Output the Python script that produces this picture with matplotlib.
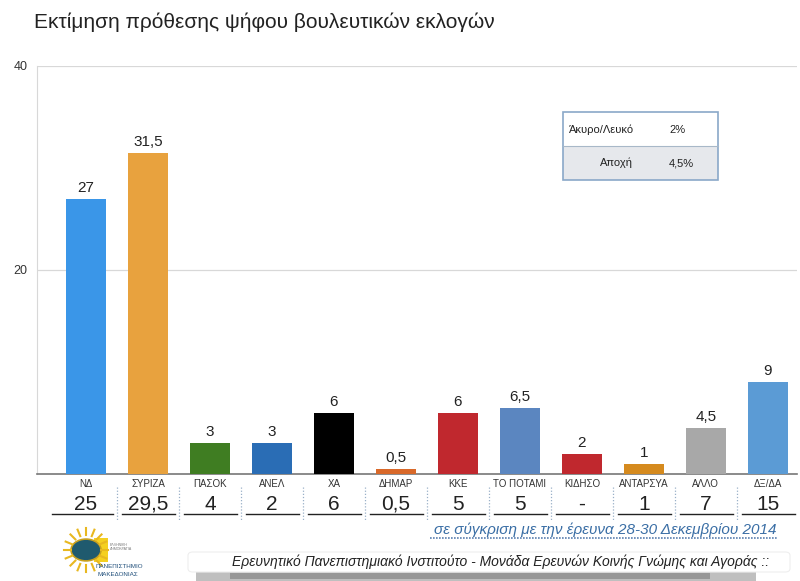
import math
import matplotlib.pyplot as plt
import matplotlib.transforms as mtransforms
from matplotlib.patches import Rectangle, FancyBboxPatch, Circle

plt.rcParams['font.family'] = ['Liberation Sans', 'DejaVu Sans']

# Data
parties = ["ΝΔ", "ΣΥΡΙΖΑ", "ΠΑΣΟΚ", "ΑΝΕΛ", "ΧΑ", "ΔΗΜΑΡ", "ΚΚΕ", "ΤΟ ΠΟΤΑΜΙ",
           "ΚΙΔΗΣΟ", "ΑΝΤΑΡΣΥΑ", "ΑΛΛΟ", "ΔΞ/ΔΑ"]
estimate = [27, 31.5, 3, 3, 6, 0.5, 6, 6.5, 2, 1, 4.5, 9]
previous = ["25", "29,5", "4", "2", "6", "0,5", "5", "5", "-", "1", "7", "15"]
colors = ["#3a96e8", "#e8a23e", "#3f7d22", "#2a6db5", "#000000", "#d9692a",
          "#c0282e", "#5b86c0", "#c0282e", "#d58a1e", "#a8a8a8", "#5b9bd5"]
inset_labels = ["Άκυρο/Λευκό", "Αποχή"]
inset_values = ["2%", "4,5%"]

W, H = 800, 581
fig = plt.figure(figsize=(8, 5.81), dpi=100)
fig.patch.set_facecolor("white")


def fy(py):
    # pixel row from top -> figure fraction
    return 1 - py / H


def fx(px):
    return px / W


ax = fig.add_axes([fx(37), fy(474), 760 / W, 408 / H])
x = list(range(len(parties)))
ax.bar(x, estimate, width=0.645, color=colors, zorder=3)
for i, v in enumerate(estimate):
    lab = ("%g" % v).replace(".", ",")
    ax.text(i, v + 0.4, lab, ha="center", va="bottom", fontsize=11, color="#222222")

ax.set_xlim(-0.79, 11.47)
ax.set_ylim(0, 40)
ax.set_yticks([20, 40])
ax.set_yticklabels(["20", "40"], fontsize=9, color="#333333")
ax.tick_params(axis="y", length=0, pad=7)
ax.tick_params(axis="x", length=0)
ax.set_xticks([])
ax.grid(axis="y", color="#d8d8d8", linewidth=0.9, zorder=0)
for s in ["top", "right"]:
    ax.spines[s].set_visible(False)
ax.spines["left"].set_color("#d8d8d8")
ax.spines["bottom"].set_color("#777777")
ax.spines["bottom"].set_linewidth(1.2)

# Title
fig.text(fx(34), fy(22), "Εκτίμηση πρόθεσης ψήφου βουλευτικών εκλογών",
         fontsize=15, color="#222222", va="center", ha="left")

# Table under the bars: categories and previous values
tr = mtransforms.blended_transform_factory(ax.transData, fig.transFigure)
for i, p in enumerate(parties):
    ax.text(i, fy(484), p, transform=tr, ha="center", va="center",
            fontsize=7, color="#333333", clip_on=False)
    ax.text(i, fy(504), previous[i], transform=tr, ha="center", va="center",
            fontsize=15, color="#222222", clip_on=False)
    left = i - 0.5 + 0.08 if i > 0 else i - 0.55
    right = i + 0.5 - 0.06
    ax.plot([left, right], [fy(514), fy(514)], transform=tr, color="#222222",
            linewidth=1.0, clip_on=False)
    if i > 0:
        ax.plot([i - 0.5, i - 0.5], [fy(487), fy(521)], transform=tr,
                color="#9ab0c8", linewidth=0.9, linestyle=(0, (1, 1.5)), clip_on=False)

# Comparison note
fig.text(fx(776), fy(530), "σε σύγκριση με την έρευνα 28-30 Δεκεμβρίου 2014",
         fontsize=11, style="italic", color="#3a6ea5", ha="right", va="center")
fig.add_artist(plt.Line2D([fx(430), fx(778)], [fy(538), fy(538)],
                          color="#5a7fb0", linewidth=1.2, linestyle=(0, (1, 0.8))))

# Inset box (invalid / abstention)
bx0, bx1, by0, by1, bym = 563, 718, 112, 180, 146
fig.add_artist(Rectangle((fx(bx0), fy(by1)), fx(bx1 - bx0), (by1 - bym) / H,
                         facecolor="#e6e8ec", edgecolor="none"))
fig.add_artist(Rectangle((fx(bx0), fy(by1)), fx(bx1 - bx0), (by1 - by0) / H,
                         facecolor="none", edgecolor="#8aa8c8", linewidth=1.2))
fig.add_artist(plt.Line2D([fx(bx0), fx(bx1)], [fy(bym), fy(bym)],
                          color="#a8b8c8", linewidth=0.8))
fig.text(fx(569), fy(130), inset_labels[0], fontsize=8, color="#222222", va="center")
fig.text(fx(678), fy(130), inset_values[0], fontsize=8, color="#222222", va="center", ha="center")
fig.text(fx(600), fy(163), inset_labels[1], fontsize=8, color="#222222", va="center")
fig.text(fx(681), fy(163), inset_values[1], fontsize=8, color="#222222", va="center", ha="center")

# Footer band with grey shadow
fig.add_artist(Rectangle((fx(196), fy(581)), fx(560), 11 / H,
                         facecolor="#8c8c8c", edgecolor="none", alpha=0.55))
fig.add_artist(Rectangle((fx(230), fy(579)), fx(480), 6 / H,
                         facecolor="#707070", edgecolor="none", alpha=0.5))
fig.add_artist(FancyBboxPatch((fx(188), fy(572)), fx(602), 20 / H,
                              boxstyle="round,pad=0,rounding_size=0.006",
                              facecolor="white", edgecolor="#eeeeee", linewidth=0.8))
fig.text(fx(501), fy(562),
         "Ερευνητικό Πανεπιστημιακό Ινστιτούτο - Μονάδα Ερευνών Κοινής Γνώμης και Αγοράς ::",
         fontsize=10, style="italic", color="#222222", ha="center", va="center")

# Simple logo
for k in range(16):
    a = 2 * math.pi * k / 16
    fig.add_artist(plt.Line2D([fx(86 + 15 * math.cos(a)), fx(86 + 22 * math.cos(a))],
                              [fy(550 - 15 * math.sin(a)), fy(550 - 22 * math.sin(a))],
                              color="#e8b820", linewidth=1.5))
fig.add_artist(Rectangle((fx(94), fy(562)), fx(14), 24 / H,
                         facecolor="#f5d020", edgecolor="none"))
fig.add_artist(Circle((fx(86), fy(550)), 15 / W, facecolor="#1f5a6e",
                      edgecolor="#c8a020", linewidth=1.2, transform=fig.transFigure))
fig.text(fx(110), fy(547), "ΕΛΛΗΝΙΚΗ\nΔΗΜΟΚΡΑΤΙΑ", fontsize=2.5, color="#777777", va="center")
fig.text(fx(96), fy(566), "ΠΑΝΕΠΙΣΤΗΜΙΟ", fontsize=4.5, color="#1f4e7a", va="center")
fig.text(fx(97), fy(575), "ΜΑΚΕΔΟΝΙΑΣ", fontsize=4.5, color="#1f4e7a", va="center")

fig.savefig("out.png", dpi=100)
